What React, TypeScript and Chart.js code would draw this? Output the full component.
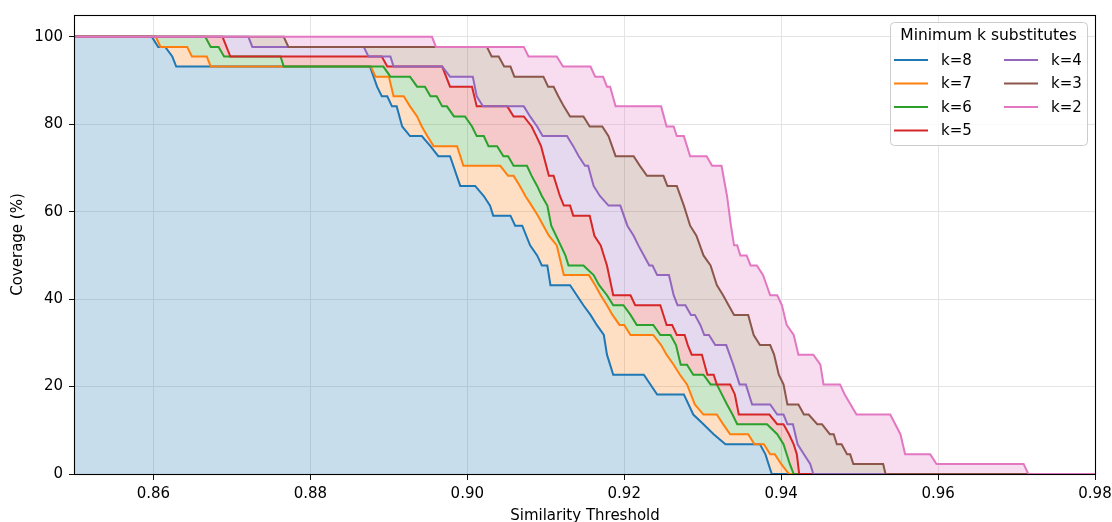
import React, { useEffect, useRef } from "react";
import { Chart, registerables } from "chart.js";

Chart.register(...registerables);

const FONT = "'DejaVu Sans', 'Liberation Sans', sans-serif";

const seriesLabels = ["k=8", "k=7", "k=6", "k=5", "k=4", "k=3", "k=2"];
const seriesColors = ["#1f77b4", "#ff7f0e", "#2ca02c", "#d62728", "#9467bd", "#8c564b", "#e377c2"];

const xTickValues = [0.86, 0.88, 0.9, 0.92, 0.94, 0.96, 0.98];
const yTickValues = [0, 20, 40, 60, 80, 100];
const xTitle = "Similarity Threshold";
const yTitle = "Coverage (%)";
const legendTitle = "Minimum k substitutes";

// [threshold, coverage %]
const k8 = [
  [0.85, 100], [0.8598, 100], [0.8606, 97.7], [0.8615, 97.7], [0.8624, 95.5], [0.8629, 93.2],
  [0.8876, 93.2], [0.8885, 88.6], [0.8891, 86.4], [0.8898, 86.4], [0.8904, 84.1], [0.891, 84.1],
  [0.8917, 79.5], [0.8927, 77.3], [0.8942, 77.3], [0.8953, 75.0], [0.8963, 72.7], [0.8978, 72.7],
  [0.8991, 65.9], [0.901, 65.9], [0.9021, 63.6], [0.9029, 61.4], [0.9033, 59.1], [0.9055, 59.1],
  [0.9061, 56.8], [0.907, 56.8], [0.908, 52.3], [0.9089, 50.0], [0.9095, 47.7], [0.9102, 47.7],
  [0.9106, 43.2], [0.9131, 43.2], [0.9148, 38.6], [0.9157, 36.4], [0.9165, 34.1], [0.9174, 31.8],
  [0.9178, 27.3], [0.9186, 22.7], [0.9225, 22.7], [0.9242, 18.2], [0.9276, 18.2], [0.9288, 13.6],
  [0.9301, 11.4], [0.9314, 9.1], [0.9329, 6.8], [0.9373, 6.8], [0.938, 4.5], [0.9388, 0], [0.98, 0],
];
const k7 = [
  [0.85, 100], [0.8603, 100], [0.8609, 97.7], [0.8643, 97.7], [0.8649, 95.5], [0.8668, 95.5],
  [0.8673, 93.2], [0.8877, 93.2], [0.8883, 90.9], [0.89, 90.9], [0.8906, 86.4], [0.8919, 86.4],
  [0.8927, 84.1], [0.8936, 81.8], [0.8942, 79.5], [0.8949, 77.3], [0.8957, 75.0], [0.8987, 75.0],
  [0.8995, 70.5], [0.9042, 70.5], [0.9052, 68.2], [0.9059, 68.2], [0.9067, 65.9], [0.9074, 63.6],
  [0.9082, 61.4], [0.909, 59.1], [0.9097, 56.8], [0.9104, 54.5], [0.9114, 52.3], [0.9123, 45.5],
  [0.9155, 45.5], [0.9163, 43.2], [0.917, 40.9], [0.9178, 38.6], [0.9185, 36.4], [0.9194, 34.1],
  [0.92, 34.1], [0.9208, 31.8], [0.9237, 31.8], [0.9247, 29.5], [0.9254, 27.3], [0.9263, 25.0],
  [0.9271, 22.7], [0.928, 20.5], [0.9285, 18.2], [0.929, 15.9], [0.9301, 13.6], [0.9318, 13.6],
  [0.9326, 11.4], [0.9335, 9.1], [0.9358, 9.1], [0.9366, 6.8], [0.9378, 6.8], [0.9386, 4.5],
  [0.9392, 4.5], [0.94, 2.3], [0.941, 0], [0.98, 0],
];
const k6 = [
  [0.85, 100], [0.8666, 100], [0.8673, 97.7], [0.8683, 97.7], [0.869, 95.5], [0.8762, 95.5],
  [0.8766, 93.2], [0.8893, 93.2], [0.8902, 90.9], [0.8927, 90.9], [0.8936, 88.6], [0.8946, 88.6],
  [0.8953, 86.4], [0.8961, 86.4], [0.8968, 84.1], [0.8974, 84.1], [0.8983, 81.8], [0.8997, 81.8],
  [0.9006, 79.5], [0.9012, 77.3], [0.9021, 77.3], [0.9027, 75.0], [0.9038, 75.0], [0.9046, 72.7],
  [0.9052, 72.7], [0.9059, 70.5], [0.9076, 70.5], [0.9082, 68.2], [0.9089, 65.9], [0.9095, 63.6],
  [0.9102, 61.4], [0.9107, 56.8], [0.9119, 52.3], [0.9125, 50.0], [0.9129, 47.7], [0.9148, 47.7],
  [0.9161, 45.5], [0.9168, 43.2], [0.9178, 40.9], [0.9186, 38.6], [0.9199, 38.6], [0.9208, 36.4],
  [0.9216, 34.1], [0.9237, 34.1], [0.9246, 31.8], [0.9259, 31.8], [0.9266, 29.5], [0.9272, 25.0],
  [0.928, 25.0], [0.9288, 22.7], [0.9301, 22.7], [0.931, 20.5], [0.9318, 20.5], [0.9331, 15.9],
  [0.9338, 13.6], [0.9344, 11.4], [0.9382, 11.4], [0.9395, 9.1], [0.9403, 6.8], [0.9411, 2.3],
  [0.9416, 0], [0.98, 0],
];
const k5 = [
  [0.85, 100], [0.8688, 100], [0.8698, 95.5], [0.8891, 95.5], [0.8898, 93.2], [0.8968, 93.2],
  [0.8978, 88.6], [0.9006, 88.6], [0.9012, 84.1], [0.9051, 84.1], [0.9059, 81.8], [0.9072, 81.8],
  [0.9082, 79.5], [0.9088, 77.3], [0.9094, 75.0], [0.9104, 68.2], [0.911, 68.2], [0.9118, 63.6],
  [0.9123, 61.4], [0.9131, 61.4], [0.9135, 59.1], [0.9156, 59.1], [0.9162, 54.5], [0.917, 52.3],
  [0.9174, 50.0], [0.9178, 47.7], [0.9186, 40.9], [0.9208, 40.9], [0.9214, 38.6], [0.9246, 38.6],
  [0.9254, 34.1], [0.9261, 34.1], [0.9267, 31.8], [0.9277, 31.8], [0.9281, 29.5], [0.9286, 27.3],
  [0.9299, 27.3], [0.9306, 22.7], [0.9314, 22.7], [0.9318, 20.5], [0.9335, 20.5], [0.9341, 18.2],
  [0.9346, 13.6], [0.9385, 13.6], [0.9395, 11.4], [0.9403, 11.4], [0.941, 9.1], [0.9416, 6.8],
  [0.942, 4.5], [0.9423, 0], [0.98, 0],
];
const k4 = [
  [0.85, 100], [0.8721, 100], [0.8726, 97.7], [0.8868, 97.7], [0.8874, 95.5], [0.8902, 95.5],
  [0.8906, 93.2], [0.8968, 93.2], [0.8978, 90.9], [0.9007, 90.9], [0.9012, 86.4], [0.902, 84.1],
  [0.9072, 84.1], [0.908, 81.8], [0.9089, 79.5], [0.9096, 77.3], [0.9127, 77.3], [0.9135, 75.0],
  [0.9142, 72.7], [0.915, 70.5], [0.9154, 70.5], [0.9161, 65.9], [0.9169, 63.6], [0.918, 61.4],
  [0.9195, 61.4], [0.9204, 56.8], [0.9212, 54.5], [0.9218, 52.3], [0.9225, 50.0], [0.9232, 47.7],
  [0.9236, 47.7], [0.9242, 45.5], [0.9257, 45.5], [0.9263, 40.9], [0.9268, 38.6], [0.9278, 38.6],
  [0.9285, 36.4], [0.929, 36.4], [0.9297, 34.1], [0.9302, 31.8], [0.9308, 31.8], [0.9316, 29.5],
  [0.933, 29.5], [0.9339, 25.0], [0.9347, 20.5], [0.9355, 20.5], [0.9363, 15.9], [0.9386, 15.9],
  [0.9395, 13.6], [0.9403, 13.6], [0.9408, 11.4], [0.9415, 11.4], [0.9421, 6.8], [0.9429, 4.5],
  [0.9437, 2.3], [0.9441, 0], [0.98, 0],
];
const k3 = [
  [0.85, 100], [0.8766, 100], [0.8772, 97.7], [0.9025, 97.7], [0.9031, 95.5], [0.904, 95.5],
  [0.9047, 93.2], [0.9055, 93.2], [0.906, 90.9], [0.9097, 90.9], [0.9103, 88.6], [0.911, 88.6],
  [0.9116, 86.4], [0.9123, 84.1], [0.9131, 81.8], [0.9148, 81.8], [0.9156, 79.5], [0.9172, 79.5],
  [0.918, 77.3], [0.9189, 72.7], [0.9212, 72.7], [0.922, 70.5], [0.9229, 68.2], [0.925, 68.2],
  [0.9255, 65.9], [0.9267, 65.9], [0.9276, 61.4], [0.9284, 56.8], [0.9292, 54.5], [0.9301, 50.0],
  [0.931, 47.7], [0.9318, 43.2], [0.9326, 40.9], [0.9333, 38.6], [0.934, 36.4], [0.9358, 36.4],
  [0.9365, 31.8], [0.9373, 29.5], [0.9386, 29.5], [0.9391, 27.3], [0.9397, 22.7], [0.9403, 20.5],
  [0.9408, 15.9], [0.9422, 15.9], [0.9429, 13.6], [0.9435, 13.6], [0.9446, 11.4], [0.9452, 11.4],
  [0.9462, 9.1], [0.9467, 9.1], [0.9471, 6.8], [0.9477, 6.8], [0.9484, 4.5], [0.9488, 4.5],
  [0.9492, 2.3], [0.953, 2.3], [0.9533, 0], [0.98, 0],
];
const k2 = [
  [0.85, 100], [0.8955, 100], [0.896, 97.7], [0.9072, 97.7], [0.9078, 95.5], [0.9114, 95.5],
  [0.9122, 93.2], [0.9157, 93.2], [0.9163, 90.9], [0.9173, 90.9], [0.9178, 88.6], [0.9182, 88.6],
  [0.9189, 84.1], [0.9247, 84.1], [0.9254, 79.5], [0.9263, 79.5], [0.9267, 77.3], [0.9276, 77.3],
  [0.9284, 72.7], [0.9305, 72.7], [0.9312, 70.5], [0.9324, 70.5], [0.9331, 63.6], [0.9336, 56.8],
  [0.934, 52.3], [0.9344, 52.3], [0.9348, 50.0], [0.9356, 50.0], [0.9361, 47.7], [0.9369, 47.7],
  [0.9377, 45.5], [0.9386, 40.9], [0.9395, 40.9], [0.9401, 38.6], [0.9407, 34.1], [0.9416, 31.8],
  [0.9422, 27.3], [0.9441, 27.3], [0.945, 25.0], [0.9454, 20.5], [0.9475, 20.5], [0.9481, 18.2],
  [0.9496, 13.6], [0.9539, 13.6], [0.9552, 9.1], [0.9558, 4.5], [0.959, 4.5], [0.9598, 2.3],
  [0.9709, 2.3], [0.9715, 0], [0.98, 0],
];

const seriesPoints = [k8, k7, k6, k5, k4, k3, k2];

function rgba(hex: string, a: number) {
  const n = parseInt(hex.slice(1), 16);
  return `rgba(${(n >> 16) & 255},${(n >> 8) & 255},${n & 255},${a})`;
}

const framePlugin = {
  id: "frame",
  afterDatasetsDraw(chart: any) {
    const { ctx, chartArea: a } = chart;
    ctx.save();
    ctx.strokeStyle = "#000";
    ctx.lineWidth = 1.1;
    ctx.strokeRect(Math.round(a.left) - 0.5, Math.round(a.top) + 0.5, Math.round(a.right - a.left) + 1, Math.round(a.bottom - a.top));
    ctx.restore();
  },
};

const legendPlugin = {
  id: "mplLegend",
  afterDraw(chart: any) {
    const { ctx, chartArea: a } = chart;
    const bw = 197;
    const bh = 123;
    const bx = a.right - 8 - bw;
    const by = a.top + 7;
    ctx.save();
    ctx.beginPath();
    ctx.roundRect(bx + 0.5, by + 0.5, bw, bh, 4);
    ctx.fillStyle = "rgba(255,255,255,0.8)";
    ctx.fill();
    ctx.strokeStyle = "#cccccc";
    ctx.lineWidth = 1;
    ctx.stroke();
    ctx.font = `15.5px ${FONT}`;
    ctx.fillStyle = "#000";
    ctx.textAlign = "center";
    ctx.textBaseline = "middle";
    ctx.fillText(legendTitle, bx + bw / 2, by + 14);
    ctx.font = `15px ${FONT}`;
    ctx.textAlign = "left";
    seriesLabels.forEach((lab, i) => {
      const col = i < 4 ? 0 : 1;
      const row = i < 4 ? i : i - 4;
      const y = by + 38 + row * 23.5;
      const lx = bx + 4 + col * 110;
      ctx.strokeStyle = seriesColors[i];
      ctx.lineWidth = 2;
      ctx.beginPath();
      ctx.moveTo(lx, y);
      ctx.lineTo(lx + 34, y);
      ctx.stroke();
      ctx.fillStyle = "#000";
      ctx.fillText(lab, lx + 47, y + 1);
    });
    ctx.restore();
  },
};

export default function App() {
  const ref = useRef<HTMLCanvasElement>(null);
  useEffect(() => {
    if (!ref.current) return;
    const built = seriesPoints.map((pts, i) => ({
      label: seriesLabels[i],
      data: pts.map(([x, y]) => ({ x, y })),
      borderColor: seriesColors[i],
      backgroundColor: rgba(seriesColors[i], 0.25),
      borderWidth: 2,
      pointRadius: 0,
      tension: 0,
      fill: i === 0 ? "origin" : "+1",
    }));
    const datasets = built.slice().reverse();
    const tickFont = { family: FONT, size: 15 };
    const chart = new Chart(ref.current, {
      type: "line",
      data: { datasets },
      options: {
        responsive: false,
        animation: false,
        devicePixelRatio: 1,
        layout: { padding: { top: 15, right: 17, left: 0, bottom: 0 } },
        plugins: {
          legend: { display: false },
          tooltip: { enabled: false },
          filler: { drawTime: "beforeDatasetsDraw", propagate: false },
        },
        scales: {
          x: {
            type: "linear",
            min: 0.85,
            max: 0.98,
            afterBuildTicks: (s: any) => {
              s.ticks = xTickValues.map((v) => ({ value: v }));
            },
            afterFit: (s: any) => {
              s.height = 48;
              s.paddingLeft = 0;
              s.paddingRight = 0;
            },
            ticks: {
              callback: (v: any) => Number(v).toFixed(2),
              font: tickFont,
              color: "#000",
              padding: 5,
              maxRotation: 0,
              autoSkip: false,
            },
            grid: { color: "#e4e4e4", lineWidth: 1, tickColor: "#111", tickLength: 6 },
            border: { display: false },
            title: { display: true, text: xTitle, font: tickFont, color: "#000", padding: { top: 0, bottom: -3 } },
          },
          y: {
            type: "linear",
            min: 0,
            max: 105,
            afterBuildTicks: (s: any) => {
              s.ticks = yTickValues.map((v) => ({ value: v }));
            },
            afterFit: (s: any) => {
              s.width = 75;
              s.paddingTop = 0;
              s.paddingBottom = 0;
            },
            ticks: { font: tickFont, color: "#000", padding: 6, autoSkip: false },
            grid: { color: "#e4e4e4", lineWidth: 1, tickColor: "#111", tickLength: 6 },
            border: { display: false },
            title: { display: true, text: yTitle, font: tickFont, color: "#000", padding: { top: 9, bottom: 0 } },
          },
        },
      } as any,
      plugins: [framePlugin, legendPlugin],
    } as any);
    return () => chart.destroy();
  }, []);
  return (
    <div style={{ position: "fixed", left: 0, top: 0, width: 1112, height: 522, background: "#fff" }}>
      <canvas ref={ref} width={1112} height={522} style={{ width: 1112, height: 522, display: "block" }} />
    </div>
  );
}
